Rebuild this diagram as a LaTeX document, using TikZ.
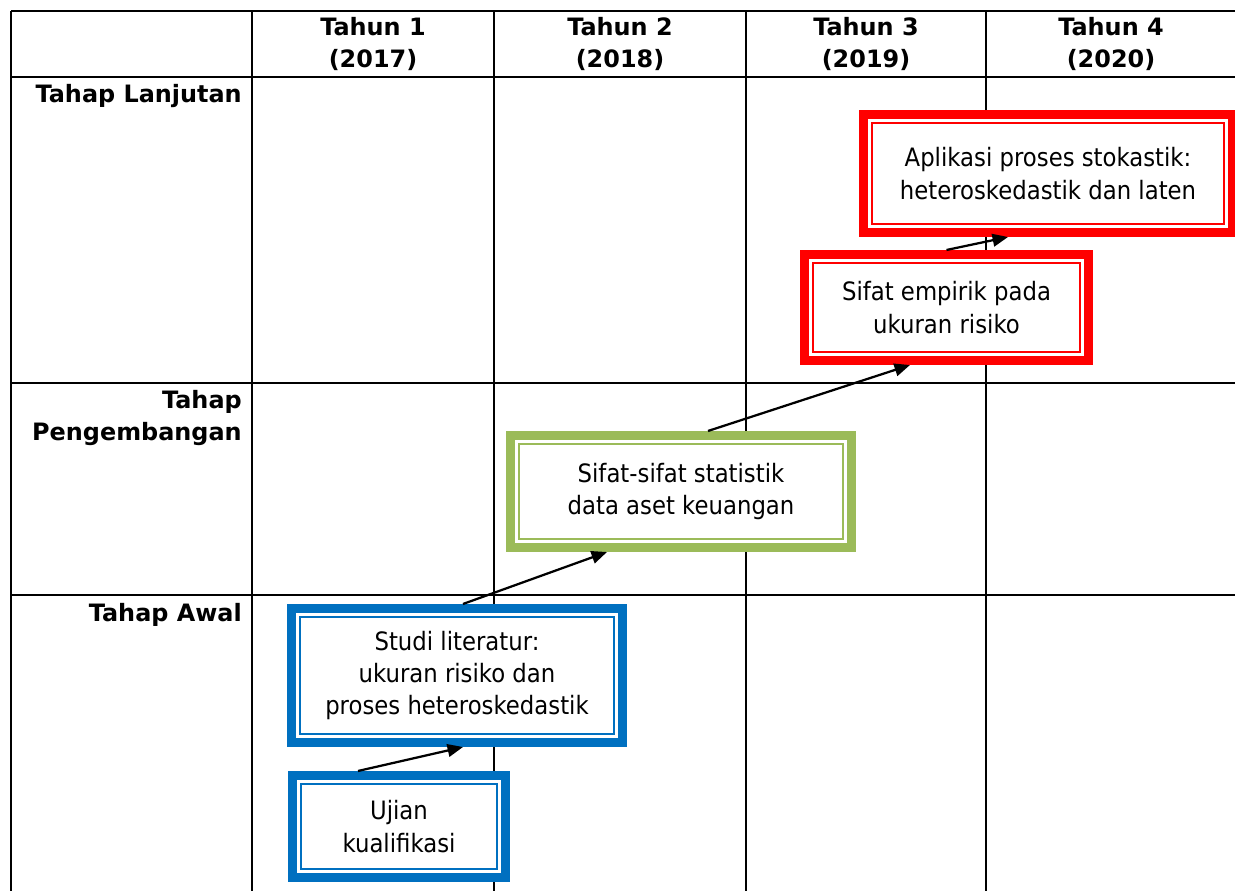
\documentclass[tikz,border=0pt]{standalone}
\usepackage{fontspec}
\setmainfont{DejaVu Sans}
\newfontfamily\boxfont{DejaVu Sans}[FakeStretch=0.9]
\usepackage{xcolor}
\usepackage{tikz}
\usetikzlibrary{arrows.meta,positioning,calc}
\definecolor{stageblue}{HTML}{0070C0}
\definecolor{stagegreen}{HTML}{9BBB59}
\definecolor{stagered}{HTML}{FF0000}

\begin{document}
\begin{tikzpicture}[
        x=0.025cm, y=-0.025cm,
        grid_line/.style={
            draw=black,
            line width=1.7pt
        },
        head_text/.style={
            font=\fontsize{17}{23}\selectfont\bfseries,
            align=center,
            inner sep=0pt
        },
        row_text/.style={
            font=\fontsize{17}{23}\selectfont\bfseries,
            align=right,
            anchor=east,
            inner sep=0pt
        },
        stage_box/.style={
            rectangle,
            draw=#1,
            fill=white,
            line width=6.4pt,
            outer sep=3.2pt,
            inner sep=0pt,
            align=center,
            font=\boxfont\fontsize{18}{23}\selectfont,
            path picture={
                \draw[#1, line width=1.7pt]
                    ([shift={(8.3,8.3)}]path picture bounding box.north west)
                    rectangle
                    ([shift={(-8.3,-8.3)}]path picture bounding box.south east);
            }
        },
        step_arrow/.style={
            draw=black,
            line width=1.6pt,
            -{Triangle[length=11pt,width=9pt]}
        }
    ]
        \useasboundingbox (0,0) rectangle (1235,891);
        \clip (0,0) rectangle (1235,891);

        % Grid
        \foreach \y in {11,77,383,595}
            \draw[grid_line] (11,\y) -- (1245,\y);
        \foreach \x in {11,252,494,746,986}
            \draw[grid_line] (\x,11) -- (\x,900);

        % Header
        \node[head_text] (t1) at (373,44) {Tahun 1\\(2017)};
        \node[head_text] (t2) at (620,44) {Tahun 2\\(2018)};
        \node[head_text] (t3) at (866,44) {Tahun 3\\(2019)};
        \node[head_text] (t4) at (1111,44) {Tahun 4\\(2020)};

        \node[row_text] (lanjut) at (242,96) {Tahap Lanjutan};
        \node[row_text] (kembang) at (242,418) {Tahap\\Pengembangan};
        \node[row_text] (awal) at (242,615) {Tahap Awal};

        % Stages
        \node[stage_box=stageblue, minimum width=5.325cm, minimum height=2.55cm]
            (ujian) at (399,826.5) {Ujian\\kualifikasi};
        \node[stage_box=stageblue, minimum width=8.275cm, minimum height=3.35cm]
            (studi) at (457,675.5) {Studi literatur:\\ukuran risiko dan\\proses heteroskedastik};
        \node[stage_box=stagegreen, minimum width=8.525cm, minimum height=2.8cm]
            (statistik) at (681,491.5) {Sifat-sifat statistik\\data aset keuangan};
        \node[stage_box=stagered, minimum width=7.1cm, minimum height=2.65cm]
            (empirik) at (946.5,307.5) {Sifat empirik pada\\ukuran risiko};
        \node[stage_box=stagered, minimum width=9.225cm, minimum height=2.95cm]
            (aplikasi) at (1048,173.5) {Aplikasi proses stokastik:\\heteroskedastik dan laten};

        % Arrows
        \draw[step_arrow] ([shift={(-41,0)}]ujian.north) -- ([shift={(6,0)}]studi.south);
        \draw[step_arrow] ([shift={(6,0)}]studi.north) -- ([shift={(-74,0)}]statistik.south);
        \draw[step_arrow] ([shift={(27,0)}]statistik.north) -- ([shift={(-36.5,0)}]empirik.south);
        \draw[step_arrow] (empirik.north) -- ([shift={(-40,0)}]aplikasi.south);
    \end{tikzpicture}
\end{document}
